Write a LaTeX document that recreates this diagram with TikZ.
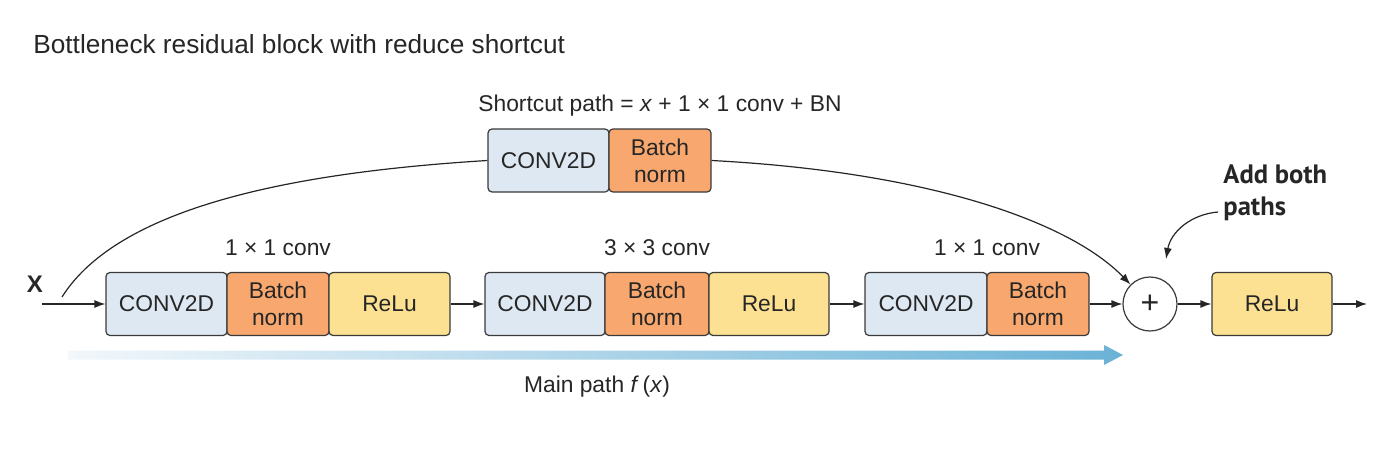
\documentclass[tikz,border=0pt]{standalone}
\usepackage{fontspec}
\setmainfont{Liberation Sans}
\newfontfamily\boldcallout{PT Sans}
\usetikzlibrary{arrows.meta}
\definecolor{convblue}{HTML}{DDE8F2}
\definecolor{bnorange}{HTML}{F8A86E}
\definecolor{reluyellow}{HTML}{FDE192}
\definecolor{edgegray}{HTML}{3A3A3A}
\definecolor{arrowblue}{HTML}{6AB2D6}
\definecolor{arrowpale}{HTML}{F2F7FB}
\begin{document}
\begin{tikzpicture}[x=0.5pt,y=-0.5pt,
  every node/.style={font=\fontsize{11.4}{13.6}\selectfont, text=black!85},
  blk/.style={draw=edgegray, line width=0.6pt, rounded corners=2pt, inner sep=0pt,
    minimum height=31.5pt, align=center},
  convbox/.style={blk, fill=convblue, minimum width=60.5pt},
  bnbox/.style={blk, fill=bnorange, minimum width=51pt},
  relubox/.style={blk, fill=reluyellow, minimum width=60.5pt},
  conn/.style={draw=black!85, line width=0.6pt, -{Latex[length=5.5pt,width=4pt]}},
  lbl/.style={inner sep=0pt}
]
\useasboundingbox (0,0) rectangle (1392,466);

% title
\node[lbl, anchor=west, font=\fontsize{13.1}{15}\selectfont] (title) at (33,44) {Bottleneck residual block with reduce shortcut};

% shortcut
\node[lbl] (sclabel) at (660,106) {Shortcut path = \textit{x} + 1 × 1 conv + BN};
\node[convbox] (sc) at (548.5,160.5) {CONV2D};
\node[bnbox] (sb) at (660,160.5) {Batch\\norm};

% main row
\node[lbl, font=\fontsize{12}{14}\selectfont\bfseries] (xin) at (35,284) {X};
\coordinate (xstart) at (42,304);
\coordinate (curvestart) at (62,297);

\node[convbox] (c1) at (166.5,304) {CONV2D};
\node[bnbox] (b1) at (278,304) {Batch\\norm};
\node[relubox] (r1) at (389.5,304) {ReLu};

\node[convbox, minimum width=60pt] (c2) at (545,304) {CONV2D};
\node[bnbox, minimum width=52pt] (b2) at (657,304) {Batch\\norm};
\node[relubox, minimum width=60pt] (r2) at (769,304) {ReLu};

\node[convbox, minimum width=61pt] (c3) at (926,304) {CONV2D};
\node[bnbox] (b3) at (1038,304) {Batch\\norm};

\node[circle, draw=edgegray, line width=0.6pt, minimum size=27pt, inner sep=0pt, fill=white,
  font=\fontsize{16}{18}\selectfont] (plus) at (1150,304) {+};
\node[relubox, minimum width=60pt] (r4) at (1272,304) {ReLu};
\coordinate (out) at (1367,304);

% group labels
\node[lbl] (l1) at (278,248) {1 × 1 conv};
\node[lbl] (l2) at (657,248) {3 × 3 conv};
\node[lbl] (l3) at (987,248) {1 × 1 conv};

% connectors
\draw[conn] (xstart) -- (c1.west);
\draw[conn] (r1.east) -- (c2.west);
\draw[conn] (r2.east) -- (c3.west);
\draw[conn] (b3.east) -- (plus.west);
\draw[conn] (plus.east) -- (r4.west);
\draw[conn] (r4.east) -- (out);

% shortcut curve
\draw[draw=black!85, line width=0.6pt] (curvestart) .. controls (120,205) and (300,172) .. (sc.west);
\draw[conn] (sb.east) .. controls (930,172) and (1070,222) .. (plus.north west);

% add both paths callout
\node[lbl, anchor=north west, align=left, font=\boldcallout\fontsize{13.3}{16}\selectfont\bfseries] (addlbl) at (1223,164) {Add both\\paths};
\coordinate (calloutstart) at (1218,212);
\coordinate (calloutend) at (1166,259);
\draw[conn] (calloutstart) to[out=185,in=80] (calloutend);

% main path gradient arrow
\shade[left color=arrowpale, right color=arrowblue]
  (68,350.5) -- (1104,350.5) -- (1104,345) -- (1123,355) -- (1104,365) -- (1104,359.5) -- (68,359.5) -- cycle;
\node[lbl] (mainlbl) at (597,387) {Main path \textit{f}\,(\textit{x})};
\end{tikzpicture}
\end{document}
